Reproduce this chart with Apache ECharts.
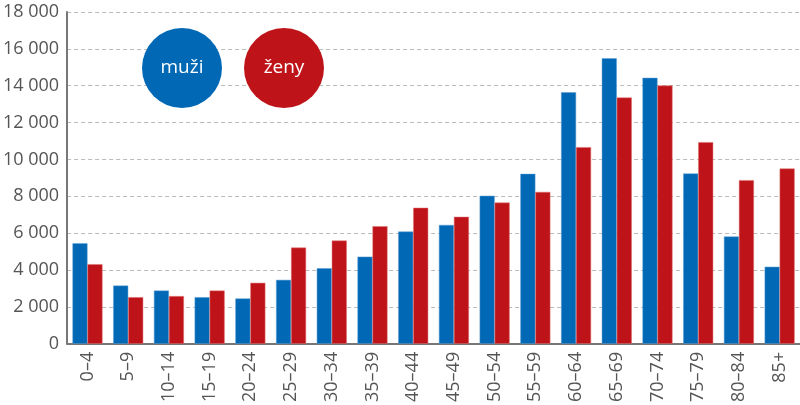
<!DOCTYPE html>
<html>
<head>
<meta charset="utf-8">
<script src="https://cdn.jsdelivr.net/npm/echarts@6/dist/echarts.min.js"></script>
<style>html,body{margin:0;padding:0;background:#fff}#c{width:800px;height:405px}</style>
</head>
<body>
<div id="c"></div>
<script>
const categories = ['0–4','5–9','10–14','15–19','20–24','25–29','30–34','35–39','40–44','45–49','50–54','55–59','60–64','65–69','70–74','75–79','80–84','85+'];
const muzi = [5450,3160,2890,2530,2460,3470,4100,4730,6090,6450,8030,9220,13650,15490,14430,9240,5820,4180];
const zeny = [4320,2530,2590,2890,3310,5220,5600,6380,7380,6890,7660,8240,10670,13360,14010,10940,8880,9510];
const seriesNames = ['muži','ženy'];
const colors = ['#0068b4','#be1419'];

const chart = echarts.init(document.getElementById('c'));
const fontFamily = '"Open Sans", "Noto Sans", sans-serif';
chart.setOption({
  animation: false,
  grid: {left: 65, right: 0, top: 12, bottom: 61, containLabel: false},
  xAxis: {
    type: 'category',
    data: categories,
    axisLine: {lineStyle: {color: '#777', width: 2}},
    axisTick: {show: false},
    axisLabel: {rotate: 90, color: '#555', fontSize: 18, fontFamily: fontFamily, margin: 8, interval: 0}
  },
  yAxis: {
    type: 'value',
    min: 0, max: 18000, interval: 2000,
    axisLine: {show: true, lineStyle: {color: '#777', width: 2}},
    axisTick: {show: false},
    splitLine: {lineStyle: {color: '#bbb', type: [4, 3], width: 1}},
    axisLabel: {
      color: '#555', fontSize: 18, fontFamily: fontFamily, margin: 8,
      formatter: v => String(v).replace(/\B(?=(\d{3})+(?!\d))/g, ' ')
    }
  },
  series: [
    {name: seriesNames[0], type: 'bar', data: muzi, barWidth: 15, barGap: '0%',
     itemStyle: {color: colors[0], borderColor: '#5a9fd6', borderWidth: 0.5}},
    {name: seriesNames[1], type: 'bar', data: zeny, barWidth: 15, barGap: '0%',
     itemStyle: {color: colors[1], borderColor: '#e07070', borderWidth: 0.5}}
  ],
  graphic: [
    {type: 'circle', z: 100, shape: {cx: 182, cy: 68, r: 40}, style: {fill: colors[0]}},
    {type: 'text', z: 101, x: 182, y: 68, style: {text: seriesNames[0], fill: '#fff', font: '19px ' + fontFamily, align: 'center', verticalAlign: 'middle'}},
    {type: 'circle', z: 100, shape: {cx: 284, cy: 68, r: 40}, style: {fill: colors[1]}},
    {type: 'text', z: 101, x: 284, y: 68, style: {text: seriesNames[1], fill: '#fff', font: '19px ' + fontFamily, align: 'center', verticalAlign: 'middle'}}
  ]
});
</script>
</body>
</html>
